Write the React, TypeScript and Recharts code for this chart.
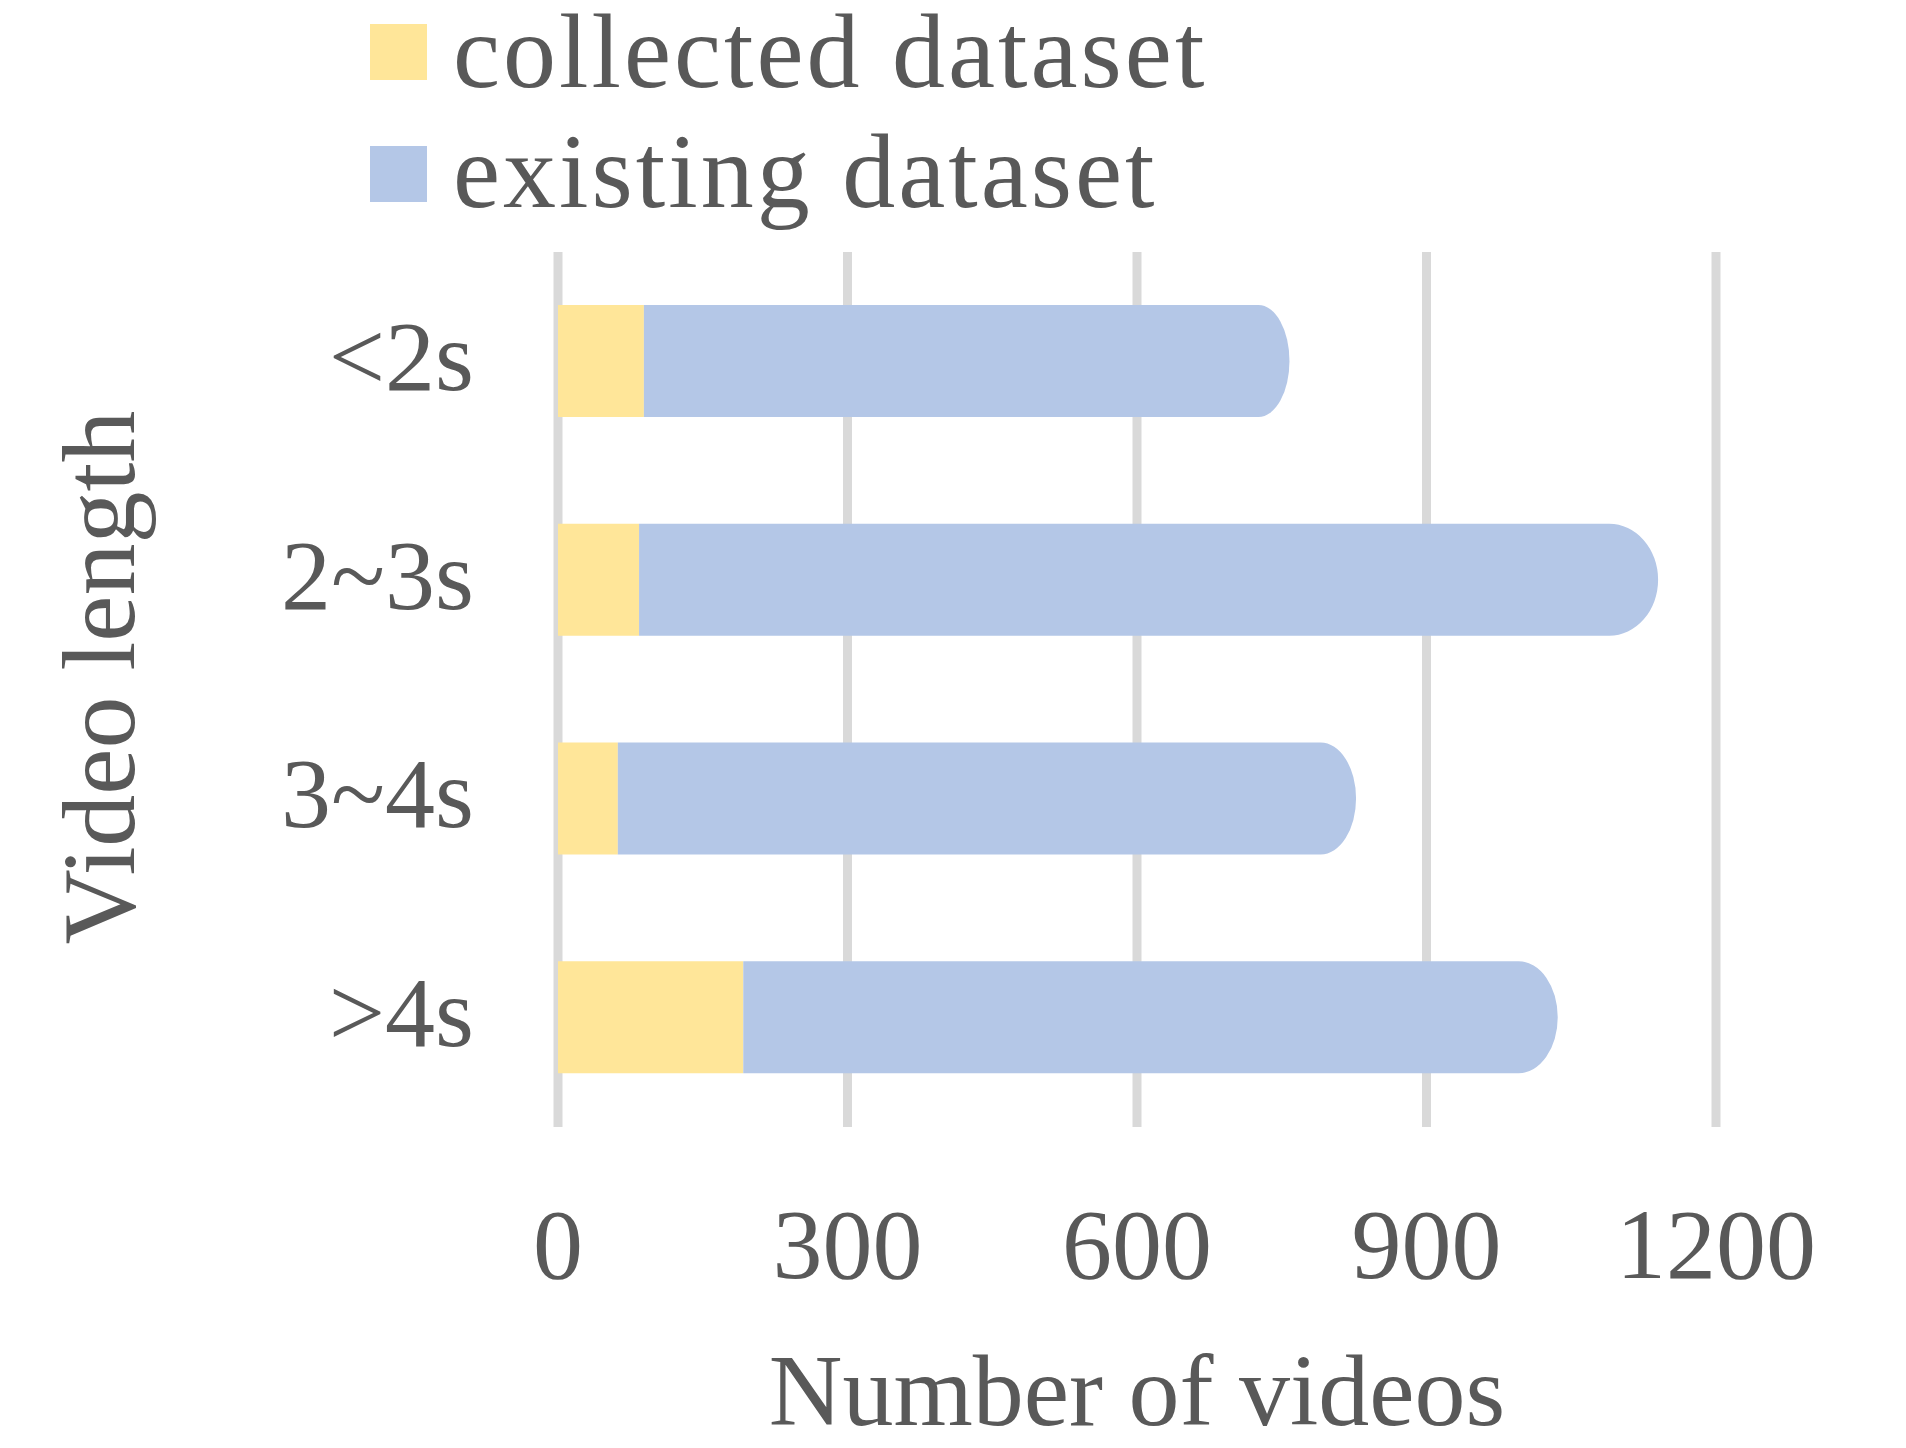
import { BarChart, Bar, XAxis, YAxis, CartesianGrid, Legend, Label } from "recharts";

const lengths = ["<2s", "2~3s", "3~4s", ">4s"];
const collected = [89, 84, 62, 192];
const existing = [669, 1056, 765, 844];
const xTicks = [0, 300, 600, 900, 1200];

const data = lengths.map((name, i) => ({ name, collected: collected[i], existing: existing[i] }));

const FONT = "'Liberation Serif', 'Times New Roman', serif";
const TEXT = "#595959";
const YELLOW = "#FFE699";
const BLUE = "#B4C7E7";

// right end of the stacked bar is a half ellipse
const RoundEnd = (props: any) => {
  const { x, y, width, height, fill } = props;
  if (!width || width <= 0) return null;
  const rx = Math.min(width, width * 0.048);
  const ry = height / 2;
  const d = `M${x},${y} L${x + width - rx},${y} A${rx} ${ry} 0 0 1 ${x + width - rx},${y + height} L${x},${y + height} Z`;
  return <path d={d} fill={fill} />;
};

const LegendBox = (props: any) => {
  const items = props.payload || [];
  return (
    <svg width={1300} height={240} style={{ display: "block" }}>
      {items.map((it: any, i: number) => (
        <g key={it.value}>
          <rect x={370} y={24 + i * 122} width={57} height={56} fill={it.color} />
          <text x={453} y={87 + i * 120} fill={TEXT} fontSize={106} fontFamily={FONT} letterSpacing={3}>
            {it.value}
          </text>
        </g>
      ))}
    </svg>
  );
};

const YTitle = (props: any) => {
  const vb = props.viewBox || {};
  const cx = vb.x + 134;
  const cy = vb.y + vb.height / 2 - 12;
  return (
    <text x={cx} y={cy} transform={`rotate(-90, ${cx}, ${cy})`} textAnchor="middle" fill={TEXT} fontSize={104} fontFamily={FONT}>
      Video length
    </text>
  );
};

const XTitle = (props: any) => {
  const vb = props.viewBox || {};
  return (
    <text x={vb.x + vb.width / 2} y={vb.y + 298} textAnchor="middle" fill={TEXT} fontSize={102} fontFamily={FONT}>
      Number of videos
    </text>
  );
};

export default function App() {
  return (
    <div style={{ position: "absolute", left: 0, top: 0, background: "#fff" }}>
      <BarChart
        width={1906}
        height={1448}
        data={data}
        layout="vertical"
        margin={{ top: 252, right: 190, bottom: 0, left: 0 }}
      >
        <CartesianGrid horizontal={false} stroke="#D9D9D9" strokeWidth={9} />
        <XAxis
          type="number"
          domain={[0, 1200]}
          ticks={xTicks}
          axisLine={false}
          tickLine={false}
          height={321}
          tickMargin={74}
          tick={{ fill: TEXT, fontSize: 100, fontFamily: FONT }}
        >
          <Label content={XTitle} />
        </XAxis>
        <YAxis
          type="category"
          dataKey="name"
          width={558}
          axisLine={false}
          tickLine={false}
          tickMargin={78}
          tick={{ fill: TEXT, fontSize: 100, fontFamily: FONT, dy: -7 }}
        >
          <Label content={YTitle} />
        </YAxis>
        <Legend
          layout="vertical"
          align="center"
          verticalAlign="middle"
          content={LegendBox}
          wrapperStyle={{ left: 0, top: 0, width: 1300 }}
        />
        <Bar dataKey="collected" name="collected dataset" stackId="a" fill={YELLOW} barSize={112} isAnimationActive={false} />
        <Bar dataKey="existing" name="existing dataset" stackId="a" fill={BLUE} barSize={112} shape={RoundEnd} isAnimationActive={false} />
      </BarChart>
    </div>
  );
}
